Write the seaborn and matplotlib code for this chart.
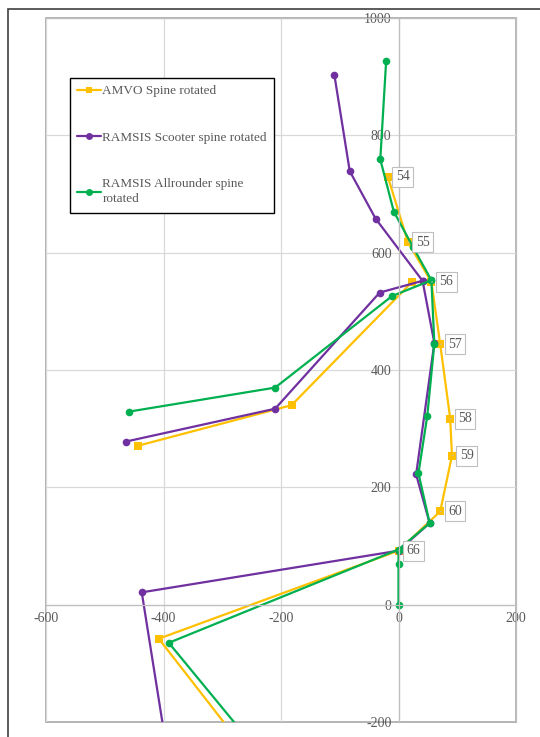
import numpy as np
import pandas as pd
import matplotlib
matplotlib.use('Agg')
import matplotlib.pyplot as plt
from matplotlib.lines import Line2D
from matplotlib.patches import Rectangle
import seaborn as sns

# series data (segments split by seg id)
amvo_x = [-443, -182, 23, 56, -18, 16, 56, 71, 88, 91, 71, 0, -408, -255]
amvo_y = [271, 340, 550, 550, 729, 618, 550, 444, 317, 254, 159, 92, -58, -255]
amvo_seg = [0, 0, 0, 0, 1, 1, 1, 1, 1, 1, 1, 1, 1, 1]

scooter_x = [-464, -210, -32, 41, -109, -83, -39, 41, 61, 30, 53, 0, -437, -394]
scooter_y = [278, 334, 532, 552, 902, 739, 658, 552, 446, 222, 139, 92, 21, -250]
scooter_seg = [0, 0, 0, 0, 1, 1, 1, 1, 1, 1, 1, 1, 1, 1]

allround_x = [-459, -210, -11, 56, -21, -31, -8, 25, 56, 61, 49, 34, 53, 0, 0, 0, 0, -391, -239]
allround_y = [329, 370, 526, 553, 927, 759, 670, 609, 553, 445, 322, 224, 139, 94, 70, 0, 94, -65, -250]
allround_seg = [0, 0, 0, 0, 1, 1, 1, 1, 1, 1, 1, 1, 1, 1, 1, 1, 2, 2, 2]

# vertebra labels on the AMVO series (index into amvo arrays)
label_text = ['54', '55', '56', '57', '58', '59', '60', '66']
label_idx = [4, 5, 6, 7, 8, 9, 10, 11]

series_names = ['AMVO Spine rotated', 'RAMSIS Scooter spine rotated',
                'RAMSIS Allrounder spine\nrotated']
colors = ['#FFC000', '#7030A0', '#00B050']
markers = ['s', 'o', 'o']

sns.set_style('white')
plt.rcParams['font.family'] = ['Liberation Serif', 'DejaVu Serif']
plt.rcParams['axes.unicode_minus'] = False

fig = plt.figure(figsize=(5.4, 7.37), dpi=100)
ax = fig.add_axes([46 / 540, 1 - 722 / 737, 470 / 540, 704 / 737])

data = [(amvo_x, amvo_y, amvo_seg), (scooter_x, scooter_y, scooter_seg),
        (allround_x, allround_y, allround_seg)]
for (xs, ys, seg), c, m in zip(data, colors, markers):
    df = pd.DataFrame({'x': xs, 'y': ys, 'seg': seg})
    sns.lineplot(data=df, x='x', y='y', units='seg', estimator=None, sort=False,
                 color=c, marker=m, markersize=5.5, markeredgewidth=0,
                 linewidth=1.6, ax=ax, legend=False)

for t, i in zip(label_text, label_idx):
    ax.annotate(t, (amvo_x[i], amvo_y[i]), xytext=(8, 0), textcoords='offset pixels',
                ha='left', va='center', fontsize=10, color='#595959',
                bbox=dict(boxstyle='square,pad=0.25', fc='white', ec='#BFBFBF', lw=0.8),
                arrowprops=dict(arrowstyle='-', color='#BFBFBF', lw=0.6))

ax.set_xlim(-600, 200)
ax.set_ylim(-200, 1000)
ax.set_xticks(np.arange(-600, 201, 200))
ax.set_yticks(np.arange(-200, 1001, 200))
ax.grid(True, color='#D9D9D9', lw=0.9)
ax.set_axisbelow(True)
ax.set_xlabel('')
ax.set_ylabel('')

ax.spines['left'].set_position(('data', 0))
ax.spines['bottom'].set_position(('data', 0))
for s in ax.spines.values():
    s.set_color('#BFBFBF')
    s.set_linewidth(0.9)
ax.add_patch(Rectangle((0, 0), 1, 1, transform=ax.transAxes, fill=False,
                       ec='#A6A6A6', lw=1.2, clip_on=False, zorder=0))
ax.tick_params(length=0, labelsize=10, labelcolor='#595959', pad=5)

handles = [Line2D([], [], color=c, marker=m, markersize=5, markeredgewidth=0, lw=1.6)
           for c, m in zip(colors, markers)]
leg = ax.legend(handles, series_names, loc='upper left', bbox_to_anchor=(0.051, 0.915),
                fontsize=9.5, labelspacing=2.6, handlelength=1.8, handletextpad=0.1,
                borderpad=0.55, frameon=True, fancybox=False, framealpha=1,
                labelcolor='#595959', borderaxespad=0)
leg.get_frame().set_edgecolor('black')
leg.get_frame().set_linewidth(1.0)
for txt in leg.get_texts():
    txt.set_linespacing(1.35)

fig.patches.append(Rectangle((8 / 540, -0.01), 1, 1 - 9 / 737 + 0.01,
                             transform=fig.transFigure, fill=False, ec='#404040',
                             lw=1.2, zorder=-1))

fig.savefig('out.png', dpi=100)
